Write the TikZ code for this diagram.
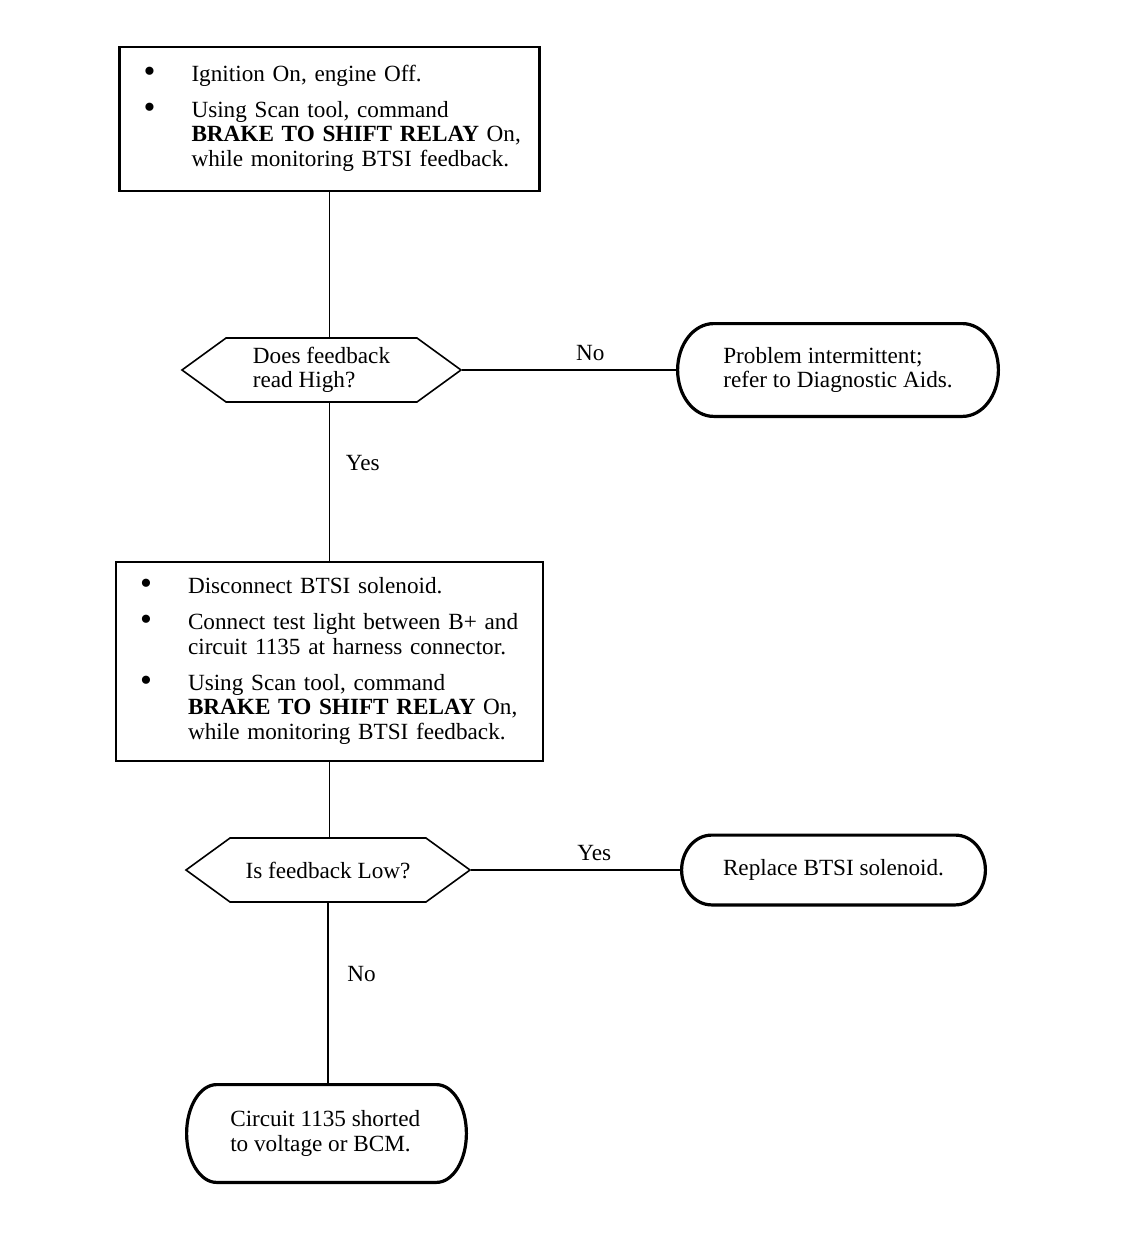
\documentclass[tikz,border=0pt]{standalone}
\usepackage{fontspec}
\setmainfont{Liberation Serif}
\usetikzlibrary{shapes.symbols,calc}

\begin{document}
\begin{tikzpicture}[x=0.5pt,y=-0.5pt,
        every node/.style={font=\fontsize{11.6}{12.3}\selectfont},
        box/.style={draw,line width=1.3pt,text width=186pt,inner xsep=12pt,align=left},
        dec/.style={draw,line width=0.8pt,signal,signal to=east and west,signal pointer angle=72,minimum height=32pt,align=left,inner sep=0pt},
        term/.style={rectangle,align=left,inner sep=0pt},
        line/.style={line width=0.8pt}]
        \useasboundingbox (0,0) rectangle (1120,1246);
        \newcommand{\bul}{\raisebox{-0.6pt}{\fontsize{17}{12}\selectfont\textbullet}}
        \node[box,minimum height=72pt] (b1) at (329.5,119) {%
            \begin{tabular}{@{}p{24pt}@{}l@{}}
            \bul & Ignition On, engine Off.\\[5.7pt]
            \bul & Using Scan tool, command\\
                 & \textbf{BRAKE TO SHIFT RELAY} On,\\
                 & while monitoring BTSI feedback.
            \end{tabular}};
        \node[dec,minimum width=139.5pt] (d1) at (321.5,370) {Does feedback\\read High?};
        \node[term,minimum width=160pt,minimum height=46pt] (t1) at (838,370) {Problem intermittent;\\refer to Diagnostic Aids.};
        \node[box,text width=189.5pt,minimum height=99.5pt] (b2) at (329.5,661.5) {%
            \begin{tabular}{@{}p{24pt}@{}l@{}}
            \bul & Disconnect BTSI solenoid.\\[5.7pt]
            \bul & Connect test light between B+ and\\
                 & circuit 1135 at harness connector.\\[5.7pt]
            \bul & Using Scan tool, command\\
                 & \textbf{BRAKE TO SHIFT RELAY} On,\\
                 & while monitoring BTSI feedback.
            \end{tabular}};
        \node[dec,minimum width=142pt] (d2) at (328,870) {Is feedback Low?};
        \node[term,minimum width=151.5pt,minimum height=34.5pt] (t2) at (833.5,870) {Replace BTSI solenoid.};
        \node[term,minimum width=139.5pt,minimum height=48.5pt] (t3) at (326.5,1133.5) {Circuit 1135 shorted\\to voltage or BCM.\hspace*{6pt}};
        % rounded ends of the terminals
        \foreach \t/\r in {t1/18,t2/15,t3/15}
            \draw[line width=1.6pt] let \p1=(\t.north west), \p2=(\t.south east), \n1={(\y1-\y2)/2} in
                (\x1+\r pt,\y1) -- (\x2-\r pt,\y1)
                arc[start angle=90,end angle=-90,x radius=\r pt,y radius=\n1]
                -- (\x1+\r pt,\y2)
                arc[start angle=270,end angle=90,x radius=\r pt,y radius=\n1] -- cycle;
        % connectors
        \draw[line] (b1.south) -- (b1.south |- d1.north);
        \draw[line] (d1.east) -- node[pos=0.594,above=1pt]{No} (t1.west);
        \draw[line] (b2.north |- d1.south) -- node[pos=0.38,right=4.5pt]{Yes} (b2.north);
        \draw[line] (b2.south) -- (b2.south |- d2.north);
        \draw[line] (d2.east) -- node[pos=0.585,above=1pt]{Yes} (t2.west);
        \draw[line] (d2.south) -- node[pos=0.39,right=6pt]{No} (d2.south |- t3.north);
    \end{tikzpicture}
\end{document}
